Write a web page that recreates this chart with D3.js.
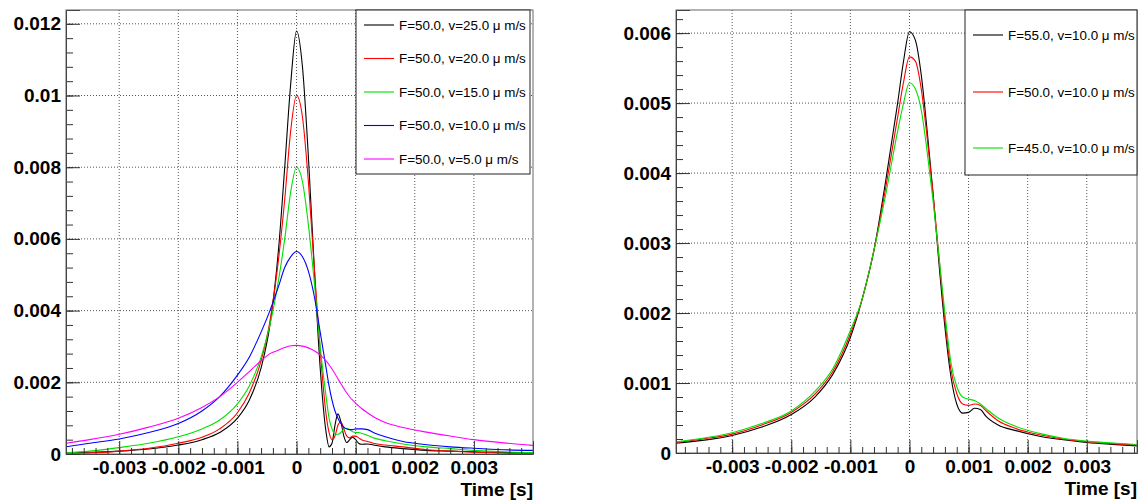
<!DOCTYPE html>
<html>
<head>
<meta charset="utf-8">
<script src="https://cdn.jsdelivr.net/npm/d3@7"></script>
<style>
  html, body { margin: 0; padding: 0; background: #fff; }
  svg { display: block; font-family: "Liberation Sans", Arial, Helvetica, sans-serif; }
</style>
</head>
<body>
<div id="chart"></div>
<script>
// ---- data ----
const timeLeft = [-0.0039, -0.0035, -0.003, -0.0025, -0.002, -0.0016, -0.0013, -0.001, -0.0008, -0.0006,
  -0.00045, -0.0003, -0.0002, -0.0001, 0, 0.0001, 0.0002, 0.0003, 0.0004, 0.0005, 0.00055, 0.0006,
  0.00065, 0.0007, 0.00075, 0.0008, 0.00085, 0.0009, 0.00095, 0.001, 0.00105, 0.0011, 0.0012, 0.0013,
  0.0015, 0.0018, 0.0022, 0.0026, 0.003, 0.0035, 0.0040];

const v25 = [0.00003, 0.00005, 0.00008, 0.00014, 0.00025, 0.0004, 0.0006, 0.001, 0.0015, 0.0024,
  0.0036, 0.0058, 0.008, 0.0103, 0.0118, 0.0108, 0.0083, 0.0052, 0.0024, 0.0006, 0.0002, 0.0003,
  0.0008, 0.00112, 0.0009, 0.0005, 0.00032, 0.0004, 0.00047, 0.0004, 0.0003, 0.00027, 0.00028, 0.00025,
  0.0002, 0.00015, 0.0001, 0.00008, 0.00006, 0.00004, 0.00003];
const v20 = [0.00002, 0.00003, 0.00008, 0.00016, 0.0003, 0.00047, 0.0007, 0.00115, 0.0017, 0.0026,
  0.0037, 0.0055, 0.0071, 0.009, 0.01, 0.0094, 0.0076, 0.0052, 0.0029, 0.0011, 0.0006, 0.0004,
  0.0005, 0.0008, 0.0009, 0.0007, 0.0005, 0.00045, 0.0005, 0.0005, 0.00045, 0.0004, 0.00035, 0.0003,
  0.00025, 0.0002, 0.00012, 0.00008, 0.00005, 0.00002, 0.00001];
const v15 = [0.00003, 0.00008, 0.00018, 0.0003, 0.00048, 0.0007, 0.00095, 0.0014, 0.0019, 0.0027,
  0.0036, 0.0049, 0.006, 0.0073, 0.008, 0.0076, 0.0064, 0.0048, 0.003, 0.0016, 0.001, 0.0007,
  0.00055, 0.00055, 0.0006, 0.0007, 0.00072, 0.00068, 0.00062, 0.0006, 0.0006, 0.00058, 0.00052, 0.00045,
  0.00037, 0.00028, 0.0002, 0.00015, 0.0001, 0.00006, 0.00004];
const v10 = [0.0002, 0.0003, 0.00042, 0.0006, 0.00085, 0.0012, 0.0016, 0.0022, 0.0027, 0.0034,
  0.004, 0.0047, 0.0052, 0.0055, 0.00565, 0.0055, 0.0051, 0.0044, 0.0034, 0.0024, 0.0019, 0.0015,
  0.0012, 0.001, 0.00085, 0.00075, 0.0007, 0.00068, 0.00068, 0.0007, 0.0007, 0.0007, 0.00068, 0.0006,
  0.00048, 0.00035, 0.00026, 0.0002, 0.00016, 0.00012, 0.0001];
const v5 = [0.0003, 0.0004, 0.00055, 0.00075, 0.001, 0.0013, 0.0016, 0.002, 0.0023, 0.0026,
  0.0028, 0.0029, 0.00297, 0.00302, 0.00303, 0.00301, 0.00296, 0.00288, 0.00276, 0.0026, 0.00249, 0.00237,
  0.00224, 0.0021, 0.00196, 0.00183, 0.0017, 0.00159, 0.0015, 0.00142, 0.00134, 0.00127, 0.00115, 0.00104,
  0.00088, 0.00074, 0.00061, 0.0005, 0.0004, 0.00031, 0.00024];

const timeRight = [-0.00395, -0.0035, -0.003, -0.0025, -0.002, -0.0016, -0.0013, -0.001, -0.0008, -0.0006,
  -0.0004, -0.0002, -0.0001, 0, 0.0001, 0.0002, 0.0003, 0.0004, 0.0005, 0.0006, 0.0007, 0.0008, 0.0009,
  0.001, 0.0011, 0.0012, 0.0013, 0.0015, 0.0018, 0.0022, 0.0026, 0.003, 0.0035, 0.0039];

const f55 = [0.00014, 0.00018, 0.00025, 0.00037, 0.00055, 0.0008, 0.00112, 0.00165, 0.0022, 0.0029,
  0.0039, 0.005, 0.0056, 0.00602, 0.0059, 0.0054, 0.0046, 0.0037, 0.0027, 0.0018, 0.0011, 0.0007, 0.00057,
  0.00058, 0.00064, 0.00062, 0.00052, 0.0004, 0.00032, 0.00024, 0.00019, 0.00015, 0.00012, 0.0001];
const f50 = [0.00015, 0.0002, 0.00027, 0.0004, 0.00058, 0.00084, 0.00116, 0.0017, 0.0022, 0.0029,
  0.0038, 0.0048, 0.0053, 0.00566, 0.0056, 0.0052, 0.0045, 0.0037, 0.0028, 0.0019, 0.0012, 0.00085, 0.0007,
  0.00068, 0.0007, 0.00068, 0.0006, 0.00046, 0.00035, 0.00026, 0.0002, 0.00016, 0.00013, 0.00011];
const f45 = [0.00016, 0.00021, 0.00029, 0.00042, 0.0006, 0.00088, 0.0012, 0.00175, 0.0022, 0.0029,
  0.0037, 0.0046, 0.005, 0.00529, 0.0052, 0.0049, 0.0043, 0.0036, 0.0028, 0.002, 0.0013, 0.00095, 0.0008,
  0.00077, 0.00075, 0.0007, 0.00063, 0.0005, 0.00038, 0.00028, 0.00021, 0.00017, 0.00014, 0.00012];

const xTicks = [-0.003, -0.002, -0.001, 0, 0.001, 0.002, 0.003];
const yTicksLeft = [0, 0.002, 0.004, 0.006, 0.008, 0.01, 0.012];
const yTicksRight = [0, 0.001, 0.002, 0.003, 0.004, 0.005, 0.006];

const labelsLeft = ["F=50.0, v=25.0 \u03bc m/s", "F=50.0, v=20.0 \u03bc m/s", "F=50.0, v=15.0 \u03bc m/s",
  "F=50.0, v=10.0 \u03bc m/s", "F=50.0, v=5.0 \u03bc m/s"];
const labelsRight = ["F=55.0, v=10.0 \u03bc m/s", "F=50.0, v=10.0 \u03bc m/s", "F=45.0, v=10.0 \u03bc m/s"];

const colorsLeft = ["#000000", "#ff0000", "#00e000", "#0000ff", "#ff00ff"];
const colorsRight = ["#000000", "#ff0000", "#00e000"];

// ---- drawing ----
const W = 1141, H = 501;
const svg = d3.select("#chart").append("svg").attr("width", W).attr("height", H);

const fmt = d => d === 0 ? "0" : String(+d.toFixed(4));

function drawPanel(cfg) {
  const { id, left, right, top, bottom, xDomain, yDomain, yStep, time, series, colors, labels, legend } = cfg;
  const x = d3.scaleLinear().domain(xDomain).range([left, right]);
  const y = d3.scaleLinear().domain(yDomain).range([bottom, top]);
  const g = svg.append("g");

  g.append("clipPath").attr("id", "clip-" + id)
    .append("rect").attr("x", left).attr("y", top)
    .attr("width", right - left).attr("height", bottom - top);

  // grid
  g.selectAll(".gx").data(xTicks).enter().append("line")
    .attr("x1", d => x(d)).attr("x2", d => x(d))
    .attr("y1", top).attr("y2", bottom)
    .attr("stroke", "#555").attr("stroke-dasharray", "1,2");
  g.selectAll(".gy").data(cfg.yTicks.filter(d => d > 0)).enter().append("line")
    .attr("x1", left).attr("x2", right)
    .attr("y1", d => y(d)).attr("y2", d => y(d))
    .attr("stroke", "#555").attr("stroke-dasharray", "1,2");

  // curves
  const line = d3.line().x(d => x(d[0])).y(d => y(d[1])).curve(d3.curveMonotoneX);
  const curves = g.append("g").attr("clip-path", `url(#clip-${id})`);
  series.forEach((s, i) => {
    curves.append("path")
      .datum(time.map((t, j) => [t, s[j]]))
      .attr("fill", "none")
      .attr("stroke", colors[i])
      .attr("stroke-width", 1.1)
      .attr("d", line);
  });

  // frame
  g.append("rect").attr("x", left).attr("y", top)
    .attr("width", right - left).attr("height", bottom - top)
    .attr("fill", "none").attr("stroke", "#666").attr("stroke-width", 1);

  // x axis ticks (drawn inward, ROOT style)
  const xMinor = d3.range(Math.ceil(xDomain[0] / 0.0002), Math.floor(xDomain[1] / 0.0002) + 1)
    .map(k => k * 0.0002);
  g.append("g").attr("transform", `translate(0,${bottom})`)
    .call(d3.axisBottom(x).tickValues(xMinor).tickSize(-6).tickFormat(""))
    .call(a => a.select(".domain").remove())
    .selectAll("line").attr("stroke", "#333");
  const xa = g.append("g").attr("transform", `translate(0,${bottom})`)
    .call(d3.axisBottom(x).tickValues(xTicks).tickSize(-13).tickPadding(7).tickFormat(fmt));
  xa.select(".domain").attr("stroke", "#444");
  xa.selectAll("line").attr("stroke", "#333");
  xa.selectAll("text").attr("fill", "#000").style("font-size", "19px").style("font-weight", "bold");

  // y axis ticks
  const yMinor = d3.range(0, Math.floor(yDomain[1] / (yStep / 5)) + 1).map(k => k * yStep / 5);
  g.append("g").attr("transform", `translate(${left},0)`)
    .call(d3.axisLeft(y).tickValues(yMinor).tickSize(-7).tickFormat(""))
    .call(a => a.select(".domain").remove())
    .selectAll("line").attr("stroke", "#333");
  const ya = g.append("g").attr("transform", `translate(${left},0)`)
    .call(d3.axisLeft(y).tickValues(cfg.yTicks).tickSize(-14).tickPadding(5).tickFormat(fmt));
  ya.select(".domain").attr("stroke", "#444");
  ya.selectAll("line").attr("stroke", "#333");
  ya.selectAll("text").attr("fill", "#000").style("font-size", "19px").style("font-weight", "bold");

  g.append("text")
    .attr("x", right).attr("y", bottom + 42)
    .attr("text-anchor", "end")
    .style("font-size", "19px").style("font-weight", "bold")
    .text("Time [s]");

  // legend
  const lg = g.append("g");
  lg.append("rect").attr("x", legend.x0).attr("y", legend.y0)
    .attr("width", legend.x1 - legend.x0).attr("height", legend.y1 - legend.y0)
    .attr("fill", "#fff").attr("stroke", "#222").attr("stroke-width", 1);
  labels.forEach((lab, i) => {
    const yy = legend.rows[i];
    lg.append("line").attr("x1", legend.x0 + 8).attr("x2", legend.x0 + 38)
      .attr("y1", yy).attr("y2", yy).attr("stroke", colors[i]).attr("stroke-width", 1.1);
    lg.append("text").attr("x", legend.x0 + 43).attr("y", yy).attr("dy", "0.35em")
      .style("font-size", "13.4px").text(lab);
  });
}

drawPanel({
  id: "left", left: 66, right: 533, top: 10, bottom: 454,
  xDomain: [-0.0039, 0.0040], yDomain: [0, 0.012385], yStep: 0.002, yTicks: yTicksLeft,
  time: timeLeft, series: [v25, v20, v15, v10, v5], colors: colorsLeft, labels: labelsLeft,
  legend: { x0: 356, x1: 530, y0: 10, y1: 174, rows: [25, 58.5, 92, 125.5, 159] }
});

drawPanel({
  id: "right", left: 676, right: 1137, top: 10, bottom: 453,
  xDomain: [-0.00395, 0.00385], yDomain: [0, 0.00633], yStep: 0.001, yTicks: yTicksRight,
  time: timeRight, series: [f55, f50, f45], colors: colorsRight, labels: labelsRight,
  legend: { x0: 965, x1: 1137, y0: 10, y1: 175, rows: [35, 92, 148] }
});
</script>
</body>
</html>
